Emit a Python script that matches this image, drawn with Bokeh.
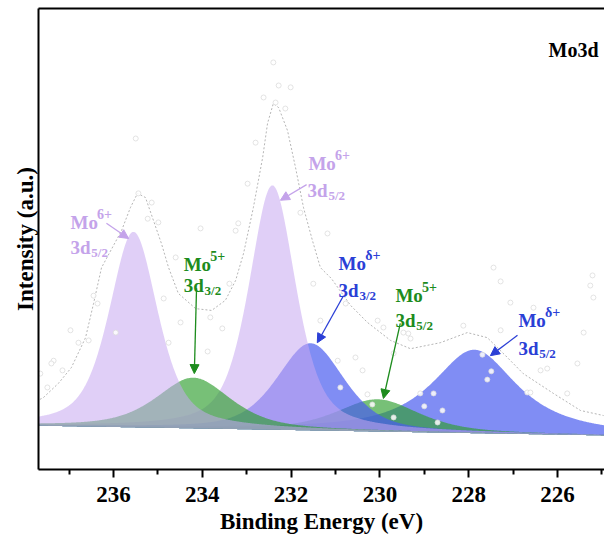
import numpy as np
from bokeh.plotting import figure
from bokeh.models import Range1d, LinearAxis, FixedTicker, Arrow, NormalHead
from bokeh.core.properties import value
from bokeh.embed import file_html
from bokeh.resources import INLINE

# ---- Mo 3d XPS fit: component parameters (binding energy in eV, intensity in a.u.) ----
peak_keys = ["Mo6+ 3d3/2", "Mo5+ 3d3/2", "Mo6+ 3d5/2", "Mod+ 3d3/2", "Mo5+ 3d5/2", "Mod+ 3d5/2"]
peak_centers = [235.55, 234.20, 232.42, 231.56, 230.05, 227.87]
peak_heights = [42.4, 11.0, 53.0, 18.9, 7.0, 18.1]
peak_fwhm = [1.30, 2.00, 1.25, 1.80, 2.20, 2.30]
peak_eta = [0.55, 0.60, 0.55, 0.50, 0.60, 0.90]
peak_colors = ["#c6a8f0", "#2e9e2e", "#c6a8f0", "#4a5cf0", "#2e9e2e", "#4a5cf0"]
peak_alpha = [0.55, 0.65, 0.55, 0.70, 0.65, 0.70]
draw_order = [5, 4, 3, 2, 1, 0]

# linear background under the components
bg_be = [237.70, 225.00]
bg_int = [9.5, 7.4]

# fitted envelope
env_be = [237.66, 237.58, 237.24, 236.95, 236.63, 236.45, 236.27, 235.82, 235.62, 235.46,
          235.28, 235.10, 234.92, 234.76, 234.54, 234.15, 233.79, 233.48, 233.25, 233.07,
          232.85, 232.64, 232.53, 232.40, 232.28, 232.08, 231.90, 231.72, 231.52, 231.34,
          231.09, 230.66, 230.28, 229.76, 229.31, 228.64, 228.03, 227.58, 227.17, 226.77,
          226.09, 225.48, 224.96]
env_int = [15.2, 15.6, 18.7, 22.1, 28.6, 36.0, 43.8, 51.8, 56.8, 59.9,
           59.0, 54.0, 49.0, 43.8, 38.2, 34.9, 34.5, 36.7, 41.0, 46.9,
           56.8, 67.7, 75.1, 79.4, 78.5, 73.5, 65.5, 56.8, 49.7, 43.8,
           41.4, 35.6, 31.9, 28.0, 26.2, 27.5, 29.7, 28.6, 24.7, 20.8,
           16.5, 12.8, 11.7]

# measured spectrum
raw_be = [232.40, 232.01, 232.62, 232.28, 232.35, 232.13, 235.50, 232.80, 235.44, 235.14,
          235.23, 234.99, 234.04, 233.25, 232.98, 233.19, 231.79, 231.18, 227.44, 234.60,
          237.35, 237.15, 236.97, 236.79, 236.56, 236.45, 236.36, 235.95, 237.49, 234.87,
          234.49, 233.82, 233.55, 233.39, 233.88, 234.76, 237.40, 231.50, 231.34, 230.95,
          230.55, 230.39, 230.77, 230.05, 229.92, 229.36, 229.31, 230.89, 230.28, 230.17,
          229.69, 227.28, 227.06, 226.54, 225.26, 225.19, 229.47, 229.69, 226.38, 226.23,
          228.12, 227.28, 225.55, 225.41, 227.69, 227.49, 227.58, 226.68, 226.61, 229.09,
          228.79, 229.00, 228.59, 228.70, 225.78, 225.21, 237.65]
raw_int = [88.3, 82.9, 80.7, 83.3, 79.6, 78.3, 71.8, 70.9, 59.9, 57.9,
           54.4, 53.6, 52.3, 51.8, 62.0, 53.4, 55.7, 51.2, 43.8, 46.0,
           23.6, 21.5, 30.2, 27.5, 28.0, 37.7, 36.0, 29.7, 17.8, 37.1,
           31.9, 33.0, 30.6, 40.3, 25.6, 27.5, 23.0, 40.3, 32.3, 23.6,
           24.3, 21.5, 36.0, 32.3, 30.8, 29.5, 28.4, 17.8, 16.3, 14.1,
           11.3, 40.8, 36.2, 35.1, 39.9, 37.3, 29.7, 25.2, 21.5, 21.9,
           31.2, 30.2, 23.0, 29.7, 24.9, 21.3, 19.5, 16.7, 16.7, 16.5,
           16.5, 13.7, 12.8, 10.2, 16.5, 42.1, 20.8]

# axis ticks
major_ticks = [236, 234, 232, 230, 228, 226]
minor_ticks = [237, 235, 233, 231, 229, 227, 225]

# peak annotations: "Mo" + superscript, "3d" + subscript, arrow
lab_color = ["#c4a3ea", "#c4a3ea", "#1d8c1d", "#2b3fd6", "#1d8c1d", "#2b3fd6"]
lab_sup = ["6+", "6+", "5+", "\u03b4+", "5+", "\u03b4+"]
lab_sub = ["5/2", "5/2", "3/2", "3/2", "5/2", "5/2"]
mo_x = [236.97, 231.61, 234.42, 230.93, 229.65, 226.88]
mo_y = [53.6, 66.4, 44.5, 44.7, 37.7, 32.3]
sup_x = [236.37, 231.01, 233.82, 230.33, 229.05, 226.28]
sup_y = [55.4, 68.2, 46.3, 46.5, 39.5, 34.1]
d_x = [236.97, 231.63, 234.42, 230.93, 229.65, 226.88]
d_y = [48.2, 60.5, 39.9, 38.8, 32.3, 26.2]
sub_x = [236.50, 231.16, 233.95, 230.46, 229.18, 226.41]
sub_y = [47.1, 59.4, 38.8, 37.7, 31.2, 25.1]
arr_x0 = [236.16, 231.65, 234.13, 230.82, 229.54, 226.90]
arr_y0 = [53.4, 61.8, 39.3, 37.7, 31.7, 29.1]
arr_x1 = [235.66, 232.24, 234.18, 231.41, 229.92, 227.51]
arr_y1 = [50.1, 58.4, 20.8, 27.5, 15.4, 24.7]

SERIF = value("Liberation Serif")


def pseudo_voigt(x, c, h, w, eta):
    r2 = ((x - c) / (w / 2.0)) ** 2
    return h * (eta / (1.0 + r2) + (1.0 - eta) * np.exp(-np.log(2.0) * r2))


p = figure(width=604, height=538, output_backend="svg", toolbar_location=None,
           x_range=Range1d(237.69, 224.94), y_range=Range1d(0, 100),
           min_border_left=38, min_border_right=0, min_border_top=8, min_border_bottom=69,
           background_fill_color="white", border_fill_color="white")
p.outline_line_color = None
p.grid.visible = False

# bottom axis
xa = p.xaxis[0]
xa.ticker = FixedTicker(ticks=major_ticks, minor_ticks=minor_ticks)
xa.axis_label = "Binding Energy (eV)"
xa.axis_label_text_font = "Liberation Serif"
xa.axis_label_text_font_style = "bold"
xa.axis_label_text_font_size = "23px"
xa.axis_label_text_color = "black"
xa.axis_label_standoff = 4
xa.major_label_text_font = "Liberation Serif"
xa.major_label_text_font_style = "bold"
xa.major_label_text_font_size = "23px"
xa.major_label_text_color = "black"
xa.major_label_standoff = 9
xa.axis_line_width = 2
xa.major_tick_line_width = 2
xa.minor_tick_line_width = 2
xa.major_tick_in = 0
xa.major_tick_out = 8
xa.minor_tick_in = 0
xa.minor_tick_out = 5

# left axis: label only
ya = p.yaxis[0]
ya.ticker = FixedTicker(ticks=[])
ya.axis_label = "Intensity (a.u.)"
ya.axis_label_text_font = "Liberation Serif"
ya.axis_label_text_font_style = "bold"
ya.axis_label_text_font_size = "23px"
ya.axis_label_text_color = "black"
ya.axis_label_standoff = 1
ya.major_label_text_font_size = "0px"
ya.major_tick_out = 0
ya.minor_tick_out = 0
ya.axis_line_width = 2

# top border line
top = LinearAxis(ticker=FixedTicker(ticks=[]), major_label_text_font_size="0px",
                 major_tick_out=0, minor_tick_out=0, axis_line_width=2)
p.add_layout(top, "above")

# component fills
xs = np.linspace(237.69, 224.94, 700)
base = bg_int[0] + (xs - bg_be[0]) * (bg_int[1] - bg_int[0]) / (bg_be[1] - bg_be[0])
for i in draw_order:
    comp = pseudo_voigt(xs, peak_centers[i], peak_heights[i], peak_fwhm[i], peak_eta[i])
    p.varea(x=xs, y1=base, y2=base + comp, fill_color=peak_colors[i], fill_alpha=peak_alpha[i])

# envelope
p.line(env_be, env_int, line_color="#a2a2a2", line_width=0.8, line_dash="2 2")

# raw data points
p.scatter(raw_be, raw_int, marker="circle", size=5, fill_color="white", fill_alpha=0.85,
          line_color="#dcdcdc", line_width=0.8)

# arrows
for i in range(6):
    c = lab_color[i]
    p.add_layout(Arrow(end=NormalHead(size=9, fill_color=c, line_color=c, line_width=1),
                       x_start=arr_x0[i], y_start=arr_y0[i], x_end=arr_x1[i], y_end=arr_y1[i],
                       line_color=c, line_width=1.3))

# labels
p.text(mo_x, mo_y, text=["Mo"] * 6, text_font=SERIF, text_font_style="bold",
       text_font_size="19px", text_color=lab_color, text_baseline="alphabetic", text_align="left")
p.text(sup_x, sup_y, text=lab_sup, text_font=SERIF, text_font_style="bold",
       text_font_size="14px", text_color=lab_color, text_baseline="alphabetic", text_align="left")
p.text(d_x, d_y, text=["3d"] * 6, text_font=SERIF, text_font_style="bold",
       text_font_size="19px", text_color=lab_color, text_baseline="alphabetic", text_align="left")
p.text(sub_x, sub_y, text=lab_sub, text_font=SERIF, text_font_style="bold",
       text_font_size="13px", text_color=lab_color, text_baseline="alphabetic", text_align="left")

# region label
p.text([226.20], [90.9], text=["Mo3d"], text_font=SERIF, text_font_style="bold",
       text_font_size="20px", text_color="black", text_baseline="alphabetic", text_align="left")

open("out.html", "w").write(file_html(p, INLINE))
